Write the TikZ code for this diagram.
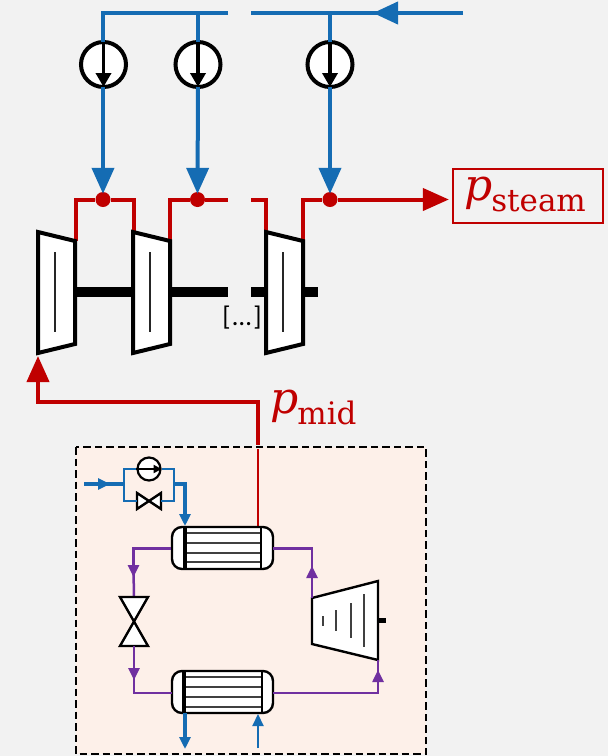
\documentclass[tikz,border=0pt]{standalone}
\usepackage{fontspec}
\setmainfont{DejaVu Serif}
\newfontfamily\calib{Carlito}
\usetikzlibrary{arrows.meta}
\definecolor{bgg}{HTML}{F2F2F2}
\definecolor{boxf}{HTML}{FDF0E9}
\definecolor{bl}{HTML}{156CB3}
\definecolor{rd}{HTML}{C00000}
\definecolor{pu}{HTML}{7030A0}
\tikzset{
  bigblue/.style={draw=bl,line width=4pt},
  bigred/.style={draw=rd,line width=4pt},
  bighead/.style={-{Triangle[length=26pt,width=22pt]}},
  smallhead/.style={-{Triangle[length=12pt,width=11pt]}},
  smallblue/.style={draw=bl,line width=3.2pt},
  thinblue/.style={draw=bl,line width=2pt},
  purple/.style={draw=pu,line width=2.5pt},
  bigpump/.style={circle,draw=black,fill=white,line width=4pt,minimum size=45pt,inner sep=0pt,outer sep=0pt},
  smallpump/.style={circle,draw=black,fill=white,line width=2.2pt,minimum size=23pt,inner sep=0pt},
  pumparrow/.style={draw=black,line width=3.8pt,-{Triangle[length=14pt,width=15pt]}},
  smallpumparrow/.style={draw=black,line width=1.8pt,-{Triangle[length=8pt,width=8pt]}},
  reddot/.style={circle,fill=rd,minimum size=15pt,inner sep=0pt},
  turbine/.style={draw=black,fill=white,line width=4pt,line join=miter},
  blade/.style={draw=black!85,line width=2pt},
  shaft/.style={draw=black,line width=10pt},
  hxbox/.style={draw=black,fill=white,line width=2.4pt,rounded corners=10pt,minimum width=101pt,minimum height=42pt,inner sep=0pt},
  tube/.style={draw=black!75,line width=1.7pt},
  valveline/.style={draw=black,fill=white,line width=2.4pt,line join=miter},
  lab/.style={text=rd,inner sep=0pt},
}
\newcommand{\plabel}[1]{{\fontsize{44}{44}\selectfont\itshape p}\kern-1pt\raisebox{-11pt}{\fontsize{31}{31}\selectfont #1}}
\begin{document}
\begin{tikzpicture}[x=1pt,y=-1pt]
\useasboundingbox (0,0) rectangle (608,756);
\fill[bgg] (0,0) rectangle (608,756);
% recuperator box
\draw[fill=boxf,draw=black,line width=2pt,dash pattern=on 7.5pt off 4pt] (76,447) rectangle (426,754);
% coordinates
\coordinate (headR) at (463,13);
\coordinate (arrowT) at (373,13);
\coordinate (gapR) at (251,13);
\coordinate (gapL) at (228,13);
\coordinate (cornerT) at (103,13);
\coordinate (j2) at (198,13);
\coordinate (j3) at (330,13);
\node[bigpump] (P1) at (103.5,64.5) {};
\node[bigpump] (P2) at (198,64.5) {};
\node[bigpump] (P3) at (330,64.5) {};
\node[reddot] (D1) at (103,199.5) {};
\node[reddot] (D2) at (197.5,199.5) {};
\node[reddot] (D3) at (330,199.5) {};
% blue headers
\draw[bigblue,-{Triangle[length=25pt,width=22pt]}] (headR) -- (arrowT);
\draw[bigblue] (385,13) -- (gapR);
\draw[bigblue] (gapL) -- (cornerT) [line cap=butt] -- (cornerT |- P1.north);
\draw[bigblue] (j2) -- (P2.north);
\draw[bigblue] (j3) -- (P3.north);
\draw[bigblue,bighead] (cornerT |- P1.south) -- ([yshift=-2pt]D1.north);
\draw[bigblue,bighead] (P2.south) -- ([yshift=-2pt]D2.north);
\draw[bigblue,bighead] (P3.south) -- ([yshift=-2pt]D3.north);
% pump arrows
\draw[pumparrow] (P1.north) -- (P1.south);
\draw[pumparrow] (P2.north) -- (P2.south);
\draw[pumparrow] (P3.north) -- (P3.south);
% red
\node[draw=rd,line width=2.2pt,fill=bgg,anchor=base,inner sep=0pt,text width=150pt,align=center,text height=31pt,text depth=23pt,text=rd] (steam) at (528,200) {\kern-6pt\plabel{steam}};
\coordinate (T1a) at (76,241);
\coordinate (T1b) at (133.5,236);
\coordinate (T2a) at (170,241);
\coordinate (T3a) at (266,236);
\coordinate (T3b) at (303,241);
\draw[bigred] (T1a) -- (76,199.5) -- (D1) -- (133.5,199.5) -- (T1b);
\draw[bigred] (T2a) -- (170,199.5) -- (D2) -- (228,199.5);
\draw[bigred] (251,199.5) -- (266,199.5) -- (T3a);
\draw[bigred] (T3b) -- (303,199.5) -- (D3);
\coordinate (steamIn) at ([xshift=-3pt]steam.west |- D3);
\draw[bigred,-{Triangle[length=26pt,width=22pt]}] (D3) -- (steamIn);
% shaft
\draw[shaft] (36,292) -- (228,292);
\draw[shaft] (251,292) -- (318,292);
% turbines
\draw[turbine] (38,232) -- (75,241) -- (75,344) -- (38,353) -- cycle;
\draw[turbine] (133,232) -- (170,241) -- (170,344) -- (133,353) -- cycle;
\draw[turbine] (266,232) -- (303,241) -- (303,344) -- (266,353) -- cycle;
\draw[blade] (55,252) -- (55,332);
\draw[blade] (150,252) -- (150,332);
\draw[blade] (283,252) -- (283,332);
\node[inner sep=0pt] (dots) at (242,318) {\calib\fontsize{27}{27}\selectfont [\kern2pt…\kern2pt]};
% p_mid line
\coordinate (midB) at (258,445);
\coordinate (midT) at (38,356);
\coordinate (hxTop) at (258,527);
\coordinate (boxTop) at (258,449);
\draw[bigred,{Triangle[length=26pt,width=22pt]}-] (midT) -- (38,402) -- (258,402) -- (midB);
\draw[draw=rd,line width=2.2pt] (boxTop) -- (hxTop);
\node[lab,anchor=base west] (pmid) at (270,413) {\plabel{mid}};
% hx
\node[hxbox] (HX1) at (222.5,548) {};
\node[hxbox] (HX2) at (222.5,692) {};
\foreach \y in {533,543,553,562} \draw[tube] (185,\y) -- (261,\y);
\foreach \y in {677,687,697,707} \draw[tube] (185,\y) -- (261,\y);
\draw[black,line width=3.5pt] (185,527) -- (185,569);
\draw[black,line width=2.4pt] (261,527) -- (261,569);
\draw[black,line width=3.5pt] (184,671) -- (184,713);
\draw[black,line width=2.4pt] (262,671) -- (262,713);
% small pump + valve
\node[smallpump] (SP) at (149,469) {};
\draw[valveline] (137,493) -- (161,509) -- (161,493) -- (137,509) -- cycle;
\coordinate (V) at (149,501);
\draw[smallblue,-{Triangle[length=12pt,width=11pt]}] (84,484) -- (110,484);
\draw[smallblue] (102,484) -- (124,484);
\draw[thinblue] (124,484) -- (124,469) -- (SP.west);
\draw[thinblue] (124,484) -- (124,501) -- (137,501);
\draw[thinblue] (161,501) -- (174,501) -- (174,484);
\draw[thinblue] (174,484) -- (174,469) -- (SP.east);
\draw[smallblue,smallhead] (174,484) -- (185,484) -- (185,526);
\draw[smallpumparrow] (SP.west) -- (SP.east);
% big valve
\coordinate (VT) at (134,597);
\coordinate (VB) at (134,646);
\draw[purple,smallhead] (HX1.west |- 0,548.5) -- (133.5,548.5) -- (133.5,577);
\draw[purple] (133.5,570) -- (VT);
\draw[valveline] (120,597) -- (148,597) -- (120,646) -- (148,646) -- cycle;
\draw[purple,smallhead] (VB) -- (134,680);
\draw[purple] (134,672) -- (134,693) -- (172,693);
% compressor
\draw[draw=black,line width=5pt] (378,620) -- (386,620);
\draw[draw=black,fill=white,line width=2.4pt,line join=miter] (312,598) -- (378,581) -- (378,660) -- (312,644) -- cycle;
\draw[blade,draw=black!75] (323,616) -- (323,626);
\draw[blade,draw=black!75] (336,610) -- (336,631);
\draw[blade,draw=black!75] (351,603) -- (351,638);
\draw[blade,draw=black!75] (364,594) -- (364,647);
\draw[purple,smallhead] (312,598) -- (312,566);
\draw[purple] (312,574) -- (312,548.5) -- (273,548.5);
\draw[purple,smallhead] (273,693) -- (378,693) -- (378,670);
\draw[purple] (378,678) -- (378,660);
% hx2 blue
\draw[smallblue,smallhead] (185,713) -- (185,749);
\draw[smallblue,line width=2.2pt,smallhead] (258,748) -- (258,714);
\end{tikzpicture}
\end{document}
